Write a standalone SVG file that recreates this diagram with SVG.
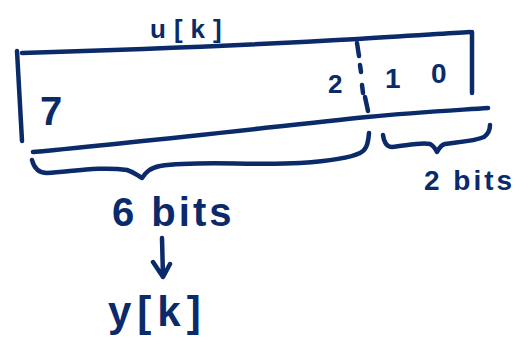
<svg xmlns="http://www.w3.org/2000/svg" width="520" height="364" viewBox="0 0 520 364">
<defs>
<style>
.ink{fill:none;stroke:#0b2a6a;stroke-width:4.5;stroke-linecap:round;stroke-linejoin:round}
.t{fill:#0b2a6a;font-family:"Liberation Sans",Arial,sans-serif;font-weight:bold}
</style>
</defs>
<rect width="520" height="364" fill="#ffffff"/>
<g id="register">
<path class="ink" d="M17,51 L22,141"/>
<path class="ink" d="M22,53 C120,50 250,45 358,39 C400,36 440,34 470,32"/>
<path class="ink" d="M472,32 L472,93"/>
<path class="ink" d="M33,152 C150,141 280,126 367,117 C420,112 460,110 488,108"/>
<path class="ink" d="M357,43 L359,56 M360,65 L361,72 M362,85 L363,93 M365,97 L368,111"/>
<text class="t" x="150" y="38" font-size="26" letter-spacing="8">u[k]</text>
<text class="t" x="40" y="125" font-size="40">7</text>
<text class="t" x="328" y="93" font-size="26">2</text>
<text class="t" x="385" y="88" font-size="28">1</text>
<text class="t" x="431" y="83" font-size="28">0</text>
</g>
<g id="brace6">
<path class="ink" d="M32,160 C34,168 38,173 47,173 C70,172 100,166 127,170 C134,172 138,176 142,178 C146,172 150,168 160,166 C200,160 250,166 300,163 C330,161 350,158 360,153 C366,150 368,145 369,133"/>
<text class="t" x="112" y="226" font-size="40" letter-spacing="3">6 bits</text>
</g>
<g id="brace2">
<path class="ink" d="M383,135 C384,142 386,147 392,147 C405,146 420,142 430,144 C434,146 436,150 437,152 C439,148 441,145 445,144 C460,142 475,141 484,137 C488,134 490,130 490,125"/>
<text class="t" x="424" y="190" font-size="28" letter-spacing="3">2 bits</text>
</g>
<g id="connectors">
<path class="ink" d="M162,238 L163,277 M153,262 L163,277 L170,264"/>
</g>
<g id="output">
<text class="t" x="108" y="326" font-size="42" letter-spacing="6">y[k]</text>
</g>
</svg>
